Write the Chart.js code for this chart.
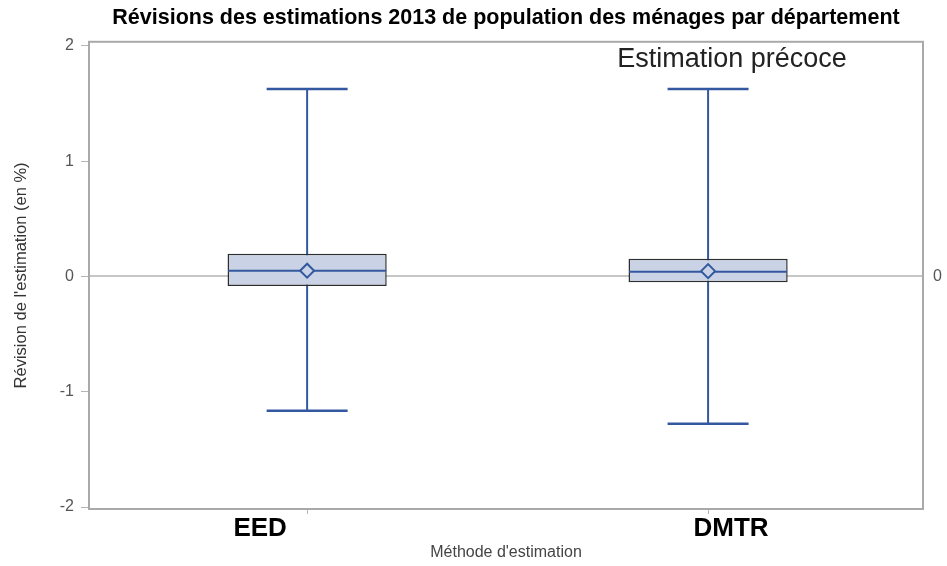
<!DOCTYPE html>
<html><head><meta charset="utf-8">
<script src="https://cdn.jsdelivr.net/npm/chart.js@4"></script>
<style>html,body{margin:0;padding:0;background:#fff;}</style>
</head><body>
<canvas id="c" width="947" height="566"></canvas>
<script>
// ---- data ----
const categories = ['EED', 'DMTR'];
const whiskerMin = [-1.165, -1.278];
const q1 = [-0.084, -0.050];
const median = [0.050, 0.041];
const mean = [0.050, 0.046];
const q3 = [0.197, 0.154];
const whiskerMax = [1.626, 1.626];
const yTicks = [-2, -1, 0, 1, 2];
const refLine = [0];
const titleText = 'Révisions des estimations 2013 de population des ménages par département';
const yTitle = "Révision de l'estimation (en %)";
const xTitle = "Méthode d'estimation";
const insetText = 'Estimation précoce';

// ---- styles ----
const BLUE = '#34589f';
const BOXFILL = '#c9d3e5';
const FRAME = '#a9a9a9';
const FONT = "'Liberation Sans', Arial, sans-serif";

const framePlugin = {
  id: 'frame',
  afterDraw(chart) {
    const {ctx, chartArea: a, scales} = chart;
    ctx.save();
    ctx.strokeStyle = FRAME;
    ctx.lineWidth = 2;
    ctx.strokeRect(a.left, a.top, a.right - a.left, a.bottom - a.top);
    // inset label
    ctx.fillStyle = '#222';
    ctx.font = '27px ' + FONT;
    ctx.textAlign = 'center';
    ctx.textBaseline = 'middle';
    ctx.fillText(insetText, a.right - 191, a.top + 18);
    // category labels (placed as in the original, slightly off their ticks)
    const labelShift = [-47, 23];
    ctx.fillStyle = '#000';
    ctx.font = 'bold 26px ' + FONT;
    categories.forEach((c, i) => {
      const px = scales.x.getPixelForValue(i);
      ctx.fillText(c, px + labelShift[i], a.bottom + 20);
    });
    ctx.restore();
  }
};

const datasets = [];
// whisker stems
categories.forEach((c, i) => {
  datasets.push({
    type: 'scatter', showLine: true,
    data: [{x: i, y: whiskerMin[i]}, {x: i, y: whiskerMax[i]}],
    borderColor: BLUE, borderWidth: 2, pointRadius: 0, order: 10
  });
});
// boxes
datasets.push({
  type: 'bar',
  data: categories.map((c, i) => ({x: i, y: [q1[i], q3[i]]})),
  backgroundColor: BOXFILL, borderColor: '#2e2e2e', borderWidth: 1.5,
  borderSkipped: false, grouped: false, barPercentage: 0.397, categoryPercentage: 1,
  order: 6
});
// whisker caps
datasets.push({
  type: 'scatter',
  data: categories.flatMap((c, i) => [{x: i, y: whiskerMin[i]}, {x: i, y: whiskerMax[i]}]),
  pointStyle: 'line', pointRadius: 40.5, borderColor: BLUE, pointBorderWidth: 2.5,
  order: 4
});
// medians
datasets.push({
  type: 'scatter',
  data: categories.map((c, i) => ({x: i, y: median[i]})),
  pointStyle: 'line', pointRadius: 79, borderColor: BLUE, pointBorderWidth: 2,
  order: 3
});
// means
datasets.push({
  type: 'scatter',
  data: categories.map((c, i) => ({x: i, y: mean[i]})),
  pointStyle: 'rectRot', pointRadius: 7, borderColor: BLUE, backgroundColor: BOXFILL,
  pointBorderWidth: 2, order: 1
});

new Chart(document.getElementById('c'), {
  type: 'bar',
  data: {datasets},
  plugins: [framePlugin],
  options: {
    responsive: false,
    animation: false,
    layout: {padding: 0, autoPadding: false},
    plugins: {
      legend: {display: false},
      tooltip: {enabled: false},
      title: {
        display: true, text: titleText, color: '#000', fullSize: false,
        font: {family: FONT, size: 21.5, weight: 'bold', lineHeight: 1.2},
        padding: {top: 5, bottom: 11}
      }
    },
    scales: {
      x: {
        type: 'linear', min: -0.544, max: 1.536, offset: false,
        afterBuildTicks(s) { s.ticks = categories.map((c, i) => ({value: i})); },
        afterFit(s) { s.height = 57; },
        ticks: {display: false},
        grid: {offset: false, drawOnChartArea: false, drawTicks: true, tickLength: 5, color: '#b5b5b5'},
        border: {display: false},
        title: {display: true, text: xTitle, color: '#444',
          font: {family: FONT, size: 16}, padding: {top: 0, bottom: 4}}
      },
      y: {
        type: 'linear', position: 'left', min: -2.017, max: 2.035, stacked: false,
        afterBuildTicks(s) { s.ticks = yTicks.map(v => ({value: v})); },
        afterFit(s) { s.width = 89; },
        ticks: {color: '#555', font: {family: FONT, size: 16}, padding: 7},
        grid: {drawOnChartArea: false, drawTicks: true, tickLength: 8, color: '#b5b5b5'},
        border: {display: false},
        title: {display: true, text: yTitle, color: '#333',
          font: {family: FONT, size: 16.5}, padding: {top: 12, bottom: 0}}
      },
      y2: {
        type: 'linear', position: 'right', min: -2.017, max: 2.035,
        afterBuildTicks(s) { s.ticks = refLine.map(v => ({value: v})); },
        afterFit(s) { s.width = 24; },
        ticks: {color: '#555', font: {family: FONT, size: 16}, padding: 10},
        grid: {drawOnChartArea: true, drawTicks: false, color: '#c6c6c6', lineWidth: 2},
        border: {display: false}
      }
    }
  }
});
</script>
</body></html>
